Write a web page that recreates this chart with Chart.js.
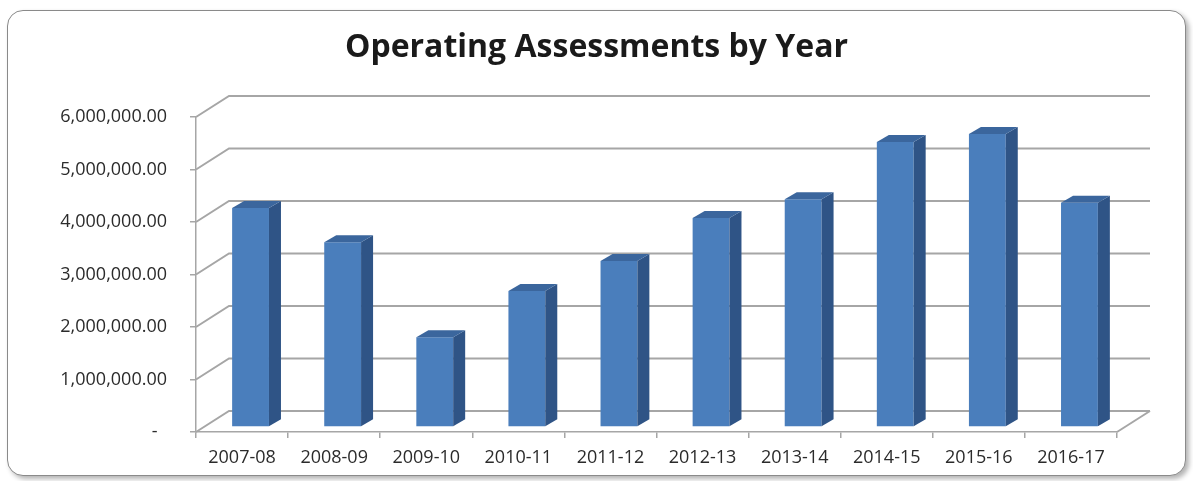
<!DOCTYPE html>
<html>
<head>
<meta charset="utf-8">
<script src="https://cdn.jsdelivr.net/npm/chart.js@4.4.1/dist/chart.umd.min.js"></script>
<style>
body{margin:0;background:#fff;}
#marco{position:absolute;left:7px;top:10px;width:1177px;height:464px;border:1.5px solid #8a8a8a;border-radius:16px;box-shadow:3px 3px 5px rgba(0,0,0,0.3);background:#fff;}
#grafica{position:absolute;left:0;top:0;}
</style>
</head>
<body>
<div id="marco"></div>
<canvas id="grafica" width="1193" height="481"></canvas>
<script>
const ANIOS = ["2007-08","2008-09","2009-10","2010-11","2011-12","2012-13","2013-14","2014-15","2015-16","2016-17"];
const VALORES = [4170000,3520000,1710000,2590000,3160000,3980000,4340000,5430000,5580000,4270000];
const ETIQUETAS_Y = ["-  ","1,000,000.00","2,000,000.00","3,000,000.00","4,000,000.00","5,000,000.00","6,000,000.00"];

const FONDO = {dx:33, dy:-21};
const PLANO = {dx:8.5, dy:-5};
const PROF = {dx:12, dy:-7};

const tresD = {
    id:'tresD',
    beforeDatasetsDraw(chart){
        const {ctx, chartArea:a, scales:{y}} = chart;
        ctx.save();
        ctx.strokeStyle = '#a6a6a6';
        ctx.lineWidth = 2;
        y.ticks.forEach(t=>{
            const py = y.getPixelForValue(t.value);
            ctx.beginPath();
            ctx.moveTo(a.left, py);
            ctx.lineTo(a.left+FONDO.dx, py+FONDO.dy);
            ctx.lineTo(a.right+FONDO.dx, py+FONDO.dy);
            ctx.stroke();
        });
        ctx.beginPath();
        ctx.moveTo(a.right, a.bottom);
        ctx.lineTo(a.right+FONDO.dx, a.bottom+FONDO.dy);
        ctx.stroke();
        ctx.restore();
        // las barras van un poco hacia el fondo
        ctx.save();
        ctx.translate(PLANO.dx, PLANO.dy);
    },
    afterDatasetsDraw(chart){
        const ctx = chart.ctx;
        chart.getDatasetMeta(0).data.forEach(b=>{
            const {x, y, base, width} = b.getProps(['x','y','base','width'], true);
            const l = x - width/2, r = x + width/2;
            ctx.fillStyle = '#2f5486';
            ctx.beginPath();
            ctx.moveTo(r, y);
            ctx.lineTo(r+PROF.dx, y+PROF.dy);
            ctx.lineTo(r+PROF.dx, base+PROF.dy);
            ctx.lineTo(r, base);
            ctx.closePath();
            ctx.fill();
            ctx.fillStyle = '#3b669d';
            ctx.beginPath();
            ctx.moveTo(l, y);
            ctx.lineTo(l+PROF.dx, y+PROF.dy);
            ctx.lineTo(r+PROF.dx, y+PROF.dy);
            ctx.lineTo(r, y);
            ctx.closePath();
            ctx.fill();
        });
        ctx.restore();
    }
};

window.onload = ()=>{
const ctx = document.getElementById('grafica').getContext('2d');
const myChart = new Chart(ctx, {
    type: 'bar',
    data: {
        labels: ANIOS,
        datasets: [{
            data: VALORES,
            backgroundColor: '#4a7ebc',
            borderWidth: 0,
            categoryPercentage: 1,
            barPercentage: 0.4
        }]
    },
    options: {
        responsive:false,
        animation:false,
        layout:{padding:0},
        scales: {
            x: {
                grid:{drawOnChartArea:false, color:'#a6a6a6', lineWidth:1.5, tickLength:6},
                border:{color:'#a6a6a6', width:1.5},
                ticks:{color:'#2b2b2b', font:{family:'Open Sans', size:18}, padding:9, maxRotation:0},
                afterFit(s){ s.height = 49; }
            },
            y: {
                min:0, max:6000000,
                grid:{drawOnChartArea:false, color:'#a6a6a6', lineWidth:1.5, tickLength:6},
                border:{color:'#a6a6a6', width:1.5},
                ticks:{stepSize:1000000, color:'#2b2b2b', font:{family:'Open Sans', size:18}, padding:23,
                    callback:(v,i)=>ETIQUETAS_Y[i]},
                afterFit(s){ s.width = 196; }
            },
            // eje vacio a la derecha, solo reserva el hueco del fondo 3D
            yDer: {
                position:'right',
                grid:{display:false},
                border:{display:false},
                ticks:{display:false},
                afterFit(s){ s.width = 76; }
            }
        },
        plugins:{
            legend:{display:false},
            tooltip:{enabled:false},
            title:{
                display:true,
                text:'Operating Assessments by Year',
                color:'#1a1a1a',
                font:{family:'Open Sans', size:32, weight:'bold'},
                padding:{top:28.8, bottom:49.8}
            }
        }
    },
    plugins:[tresD]
});
}
</script>
</body>
</html>
